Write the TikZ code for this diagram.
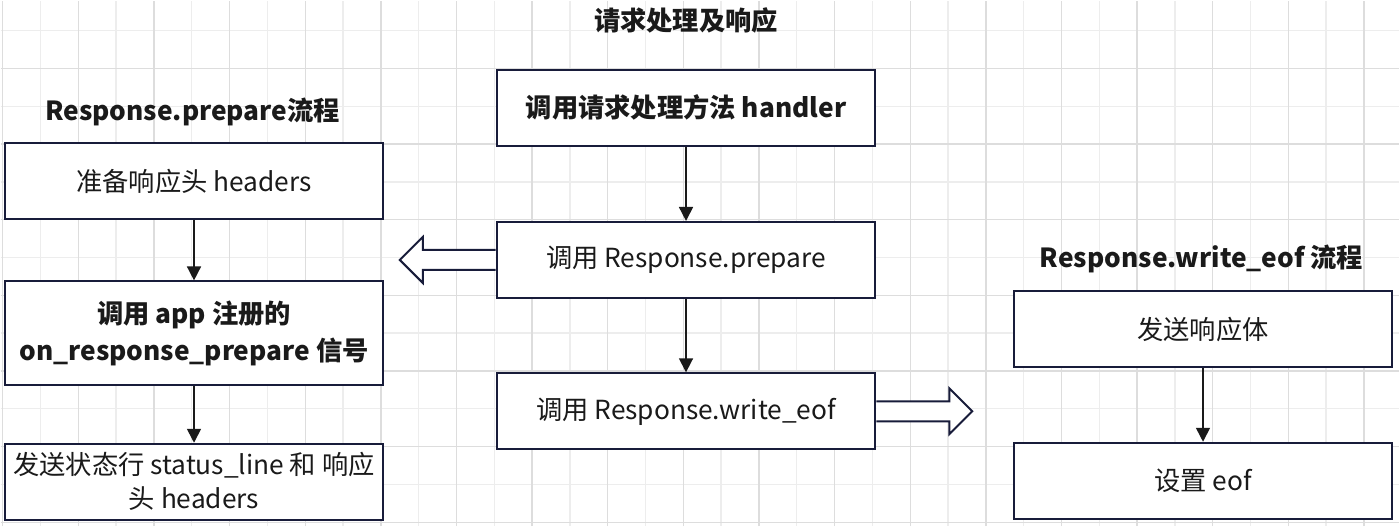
\documentclass[tikz,border=0pt]{standalone}
\usepackage{fontspec}
\setmainfont{Noto Sans CJK SC}
\usepackage{tikz}
\usetikzlibrary{arrows.meta}

\definecolor{boxline}{RGB}{24,28,58}
\definecolor{gridlight}{RGB}{237,237,237}
\definecolor{griddark}{RGB}{221,221,221}
\definecolor{inkblack}{RGB}{26,26,26}

\begin{document}
\begin{tikzpicture}[x=1pt, y=1pt,
    every node/.style={font=\fontsize{26.3pt}{34pt}\selectfont, text=inkblack},
    procbox/.style={draw=boxline, line width=2pt, fill=white, minimum width=379pt, minimum height=76pt, align=center, inner sep=0pt},
    boldtext/.style={font=\fontsize{26.3pt}{37pt}\selectfont\bfseries},
    title/.style={font=\fontsize{26.3pt}{34pt}\selectfont\bfseries},
    flow/.style={draw=inkblack, line width=1.6pt, -{Triangle[length=14pt, width=14pt]}},
    hollow/.style={draw=boxline, line width=2pt, fill=white, line join=miter}]
% Grid paper
\fill[white] (0,0) rectangle (1400,526);
\foreach \k in {1,3,...,35} {
    \draw[gridlight, line width=1.4pt] (2+37.85*\k, 0) -- (2+37.85*\k, 526);
}
\foreach \k in {0,2,...,13} {
    \draw[gridlight, line width=1.4pt] (0, 496-37.85*\k) -- (1400, 496-37.85*\k);
}
\foreach \k in {0,2,...,36} {
    \draw[griddark, line width=1.4pt] (2+37.85*\k, 0) -- (2+37.85*\k, 526);
}
\foreach \k in {1,3,...,13} {
    \draw[griddark, line width=1.4pt] (0, 496-37.85*\k) -- (1400, 496-37.85*\k);
}
\useasboundingbox (0,0) rectangle (1400,526);

% Middle column
\node[title] (mainTitle) at (686,506) {请求处理及响应};
\node[procbox, boldtext] (handler) at (686,419) {调用请求处理方法 handler};
\node[procbox] (callPrepare) at (686,266.5) {调用 Response.prepare};
\node[procbox] (callEof) at (686,115) {调用 Response.write\_eof};

% Left column: Response.prepare
\node[title] (prepTitle) at (192,415) {Response.prepare流程};
\node[procbox] (headers) at (193.5,345.5) {准备响应头 headers};
\node[procbox, boldtext, minimum height=104pt] (signal) at (193.5,193) {调用 app 注册的\\on\_response\_prepare 信号};
\node[procbox] (statusLine) at (193.5,44.5) {发送状态行 status\_line 和 响应\\头 headers};

% Right column: Response.write_eof
\node[title] (eofTitle) at (1202,267) {Response.write\_eof 流程};
\node[procbox] (sendBody) at (1203.5,197) {发送响应体};
\node[procbox] (setEof) at (1203.5,45.5) {设置 eof};

% Flow arrows
\draw[flow] (handler) -- (callPrepare);
\draw[flow] (callPrepare) -- (callEof);
\draw[flow] (headers) -- (signal);
\draw[flow] (signal) -- (statusLine);
\draw[flow] (sendBody) -- (setEof);

% Hollow arrows between columns
\coordinate (prepTip) at ([xshift=-96pt]callPrepare.west);
\draw[hollow] ([yshift=10pt]callPrepare.west) -- ([shift={(23pt,10pt)}]prepTip) -- ([shift={(23pt,23pt)}]prepTip) -- (prepTip) -- ([shift={(23pt,-23pt)}]prepTip) -- ([shift={(23pt,-10pt)}]prepTip) -- ([yshift=-10pt]callPrepare.west);
\coordinate (eofTip) at ([xshift=96pt]callEof.east);
\draw[hollow] ([yshift=10pt]callEof.east) -- ([shift={(-23pt,10pt)}]eofTip) -- ([shift={(-23pt,23pt)}]eofTip) -- (eofTip) -- ([shift={(-23pt,-23pt)}]eofTip) -- ([shift={(-23pt,-10pt)}]eofTip) -- ([yshift=-10pt]callEof.east);
\end{tikzpicture}
\end{document}
